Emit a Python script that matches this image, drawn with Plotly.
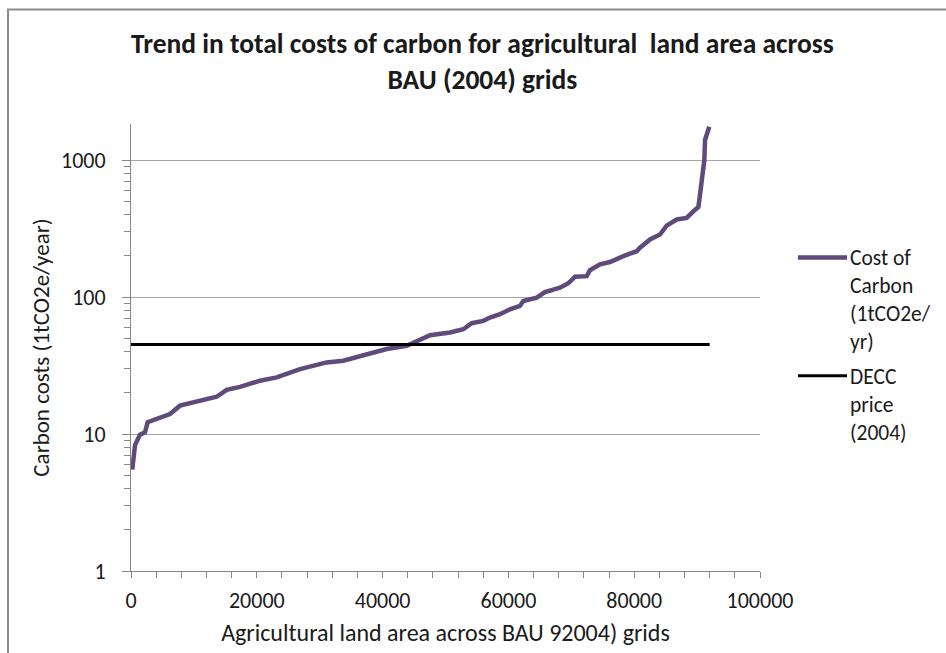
import plotly.graph_objects as go

# Cumulative agricultural land area (grid cells, sorted by cost) and carbon cost
grid_area = [200, 640, 1430, 2230, 2650, 4080, 6200, 7790, 10970, 13620, 15210,
             17330, 20510, 23160, 26870, 31110, 33750, 37470, 40650, 43830, 46000,
             47540, 50720, 52830, 54160, 56010, 57070, 58660, 60250, 61840, 62370,
             64490, 65820, 68200, 69530, 70590, 72450, 72970, 74560, 76150, 78270,
             80400, 80920, 82510, 84100, 85160, 86750, 88340, 89400, 90200, 90460,
             90890, 91150, 91260, 91940]
cost_of_carbon = [5.5, 8.3, 9.9, 10.3, 12.2, 13.0, 14.0, 16.1, 17.5, 18.7, 21.0,
                  22.1, 24.5, 25.9, 29.8, 33.3, 34.3, 38.3, 41.7, 44.0, 48.7,
                  52.6, 55.1, 58.2, 64.4, 67.0, 70.8, 74.9, 81.4, 86.1, 93.6,
                  99.0, 108.7, 117.0, 126.0, 140.7, 142.0, 157.0, 173.0, 180.0, 199.0,
                  216.0, 229.0, 263.0, 286.0, 332.0, 368.0, 378.0, 422.0, 454.0, 558.0,
                  780.0, 1000.0, 1400.0, 1750.0]

# DECC carbon price (2004), flat across the area
decc_area = [0, 92000]
decc_price = [45, 45]

x_ticks = [0, 20000, 40000, 60000, 80000, 100000]
y_ticks = [1, 10, 100, 1000]

series_names = ["Cost of<br>Carbon<br>(1tCO2e/<br>yr)", "DECC<br>price<br>(2004)"]
series_colors = ["#604A7B", "#000000"]
series_widths = [4.5, 3]

FONT = "Carlito, Calibri, Lato, sans-serif"
TEXT = "#1a1a1a"
AXIS_GREY = "#868686"
W, H = 946, 653
L, R, T, B = 131, 760, 124, 573


def px_x(px):
    return (px - L) / (R - L)


def px_y(py):
    return (B - py) / (B - T)


fig = go.Figure()
fig.add_trace(go.Scatter(
    x=grid_area, y=cost_of_carbon, mode="lines", name=series_names[0],
    line=dict(color=series_colors[0], width=series_widths[0]), showlegend=False,
))
fig.add_trace(go.Scatter(
    x=decc_area, y=decc_price, mode="lines", name=series_names[1],
    line=dict(color=series_colors[1], width=series_widths[1]), showlegend=False,
))

# Legend drawn as line samples plus left-aligned multi-line labels
legend_rows = [258, 377]
shapes = [
    dict(type="rect", xref="paper", yref="paper",
         x0=px_x(8), x1=px_x(960), y0=px_y(670), y1=px_y(9),
         line=dict(color="#8C8C8C", width=2), layer="below"),
]
annotations = [
    dict(text="<b>Trend in total costs of carbon for agricultural  land area across<br>"
              "BAU (2004) grids</b>",
         xref="paper", yref="paper", x=px_x(482), y=px_y(61),
         xanchor="center", yanchor="middle", align="center", showarrow=False,
         font=dict(family=FONT, size=27.5, color=TEXT)),
]
for name, color, width, row in zip(series_names, series_colors, series_widths, legend_rows):
    shapes.append(dict(type="line", xref="paper", yref="paper",
                       x0=px_x(798), x1=px_x(847), y0=px_y(row), y1=px_y(row),
                       line=dict(color=color, width=width)))
    annotations.append(dict(text=name, xref="paper", yref="paper",
                            x=px_x(848), y=px_y(row - 14), xanchor="left", yanchor="top",
                            align="left", showarrow=False,
                            font=dict(family=FONT, size=21.5, color=TEXT)))

fig.update_layout(
    width=W, height=H,
    margin=dict(l=L, r=W - R, t=T, b=H - B, pad=0),
    paper_bgcolor="white", plot_bgcolor="white",
    font=dict(family=FONT, size=22, color=TEXT),
    showlegend=False,
    xaxis=dict(
        range=[0, 100000], tickvals=x_ticks, ticktext=[str(v) for v in x_ticks],
        showgrid=False, zeroline=False,
        showline=True, linecolor=AXIS_GREY, linewidth=1,
        ticks="outside", ticklen=6, tickcolor=AXIS_GREY,
        minor=dict(ticks="outside", ticklen=6, tickcolor=AXIS_GREY, dtick=4000, showgrid=False),
        title=dict(text="Agricultural land area across BAU 92004) grids",
                   font=dict(family=FONT, size=24, color=TEXT), standoff=10),
        tickfont=dict(family=FONT, size=22, color=TEXT),
        ticklabelstandoff=4,
    ),
    yaxis=dict(
        type="log", range=[0, 3.263],
        tickvals=y_ticks, ticktext=[str(v) for v in y_ticks],
        showgrid=True, gridcolor="#A6A6A6", gridwidth=1, zeroline=False,
        showline=True, linecolor=AXIS_GREY, linewidth=1,
        ticks="outside", ticklen=8, tickcolor=AXIS_GREY,
        minor=dict(ticks="outside", ticklen=6, tickcolor=AXIS_GREY, dtick="D1", showgrid=False),
        title=dict(text="Carbon costs (1tCO2e/year)",
                   font=dict(family=FONT, size=23, color=TEXT), standoff=4),
        tickfont=dict(family=FONT, size=22, color=TEXT),
        ticklabelstandoff=12,
    ),
    annotations=annotations,
    shapes=shapes,
)

fig.write_html("out.html")
